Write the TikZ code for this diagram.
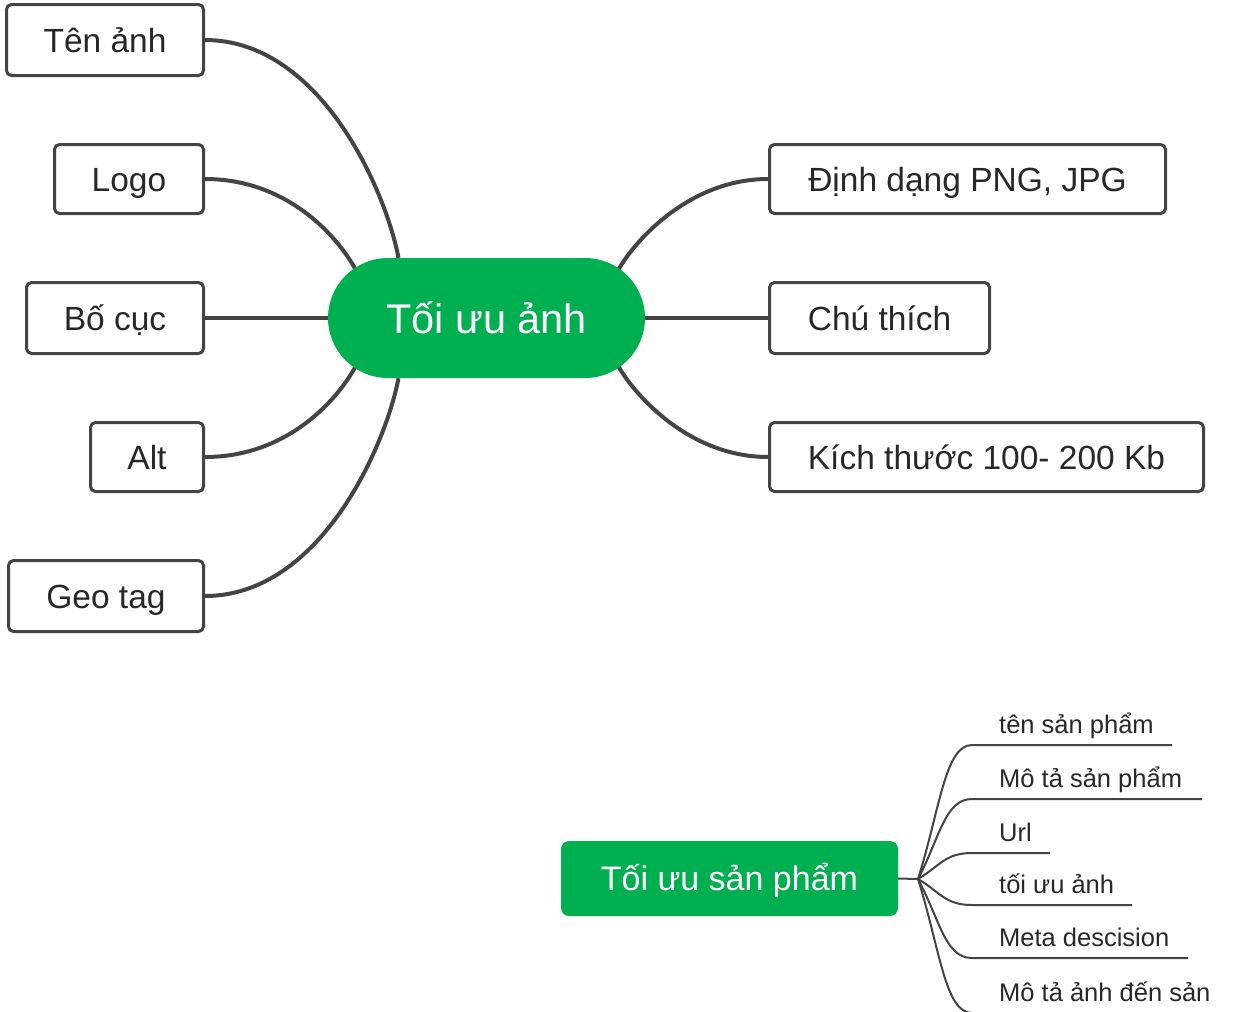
\documentclass[tikz,border=0pt]{standalone}
\usepackage{fontspec}
\setmainfont{Liberation Sans}
\usetikzlibrary{backgrounds}
\definecolor{mmgreen}{RGB}{0,175,80}
\definecolor{lnc}{RGB}{68,68,68}
\definecolor{txc}{RGB}{40,40,40}
\begin{document}
\begin{tikzpicture}[x=1pt,y=-1pt,
  box/.style={draw=lnc, line width=3pt, rounded corners=5pt, fill=white, text=txc,
    font=\fontsize{33.5}{40}\selectfont, text height=24pt, text depth=0pt, inner sep=0pt},
  hub/.style={fill=mmgreen, text=white, inner sep=0pt, text depth=0pt},
  conn/.style={draw=lnc, line width=4pt},
  thinl/.style={draw=lnc, line width=2pt},
  leaf/.style={text=txc, font=\fontsize{25.5}{30}\selectfont, inner sep=0pt, anchor=base west}]
\useasboundingbox (0,0) rectangle (1240,1012);

% central node
\node[hub, minimum width=317pt, minimum height=120pt, rounded corners=60pt,
  font=\fontsize{41.5}{50}\selectfont, text height=30pt] (c) at (486.5,318) {Tối ưu ảnh};

% left boxes
\node[box, minimum width=197pt, minimum height=71pt] (ten) at (105,40) {Tên ảnh};
\node[box, minimum width=149pt, minimum height=69pt] (logo) at (129,179) {Logo};
\node[box, minimum width=177pt, minimum height=71pt] (bocuc) at (115,318) {Bố cục};
\node[box, minimum width=113pt, minimum height=69pt] (alt) at (147,457) {Alt};
\node[box, minimum width=195pt, minimum height=71pt] (geo) at (106,596) {Geo tag};

% right boxes
\node[box, minimum width=396pt, minimum height=69pt] (dinh) at (967.5,179) {Định dạng PNG, JPG};
\node[box, minimum width=220pt, minimum height=71pt] (chu) at (879.5,318) {Chú thích};
\node[box, minimum width=434pt, minimum height=69pt] (kich) at (986.5,457) {Kích thước 100- 200 Kb};

\begin{scope}[on background layer]
\draw[conn] (ten.east) .. controls +(115,0) and +(-13,-68) .. ([xshift=-88pt]c.north);
\draw[conn] (logo.east) .. controls +(85,0) and +(-16,-30) .. ([shift={(28,-48)}]c.west);
\draw[conn] (bocuc.east) -- (c.west);
\draw[conn] (alt.east) .. controls +(85,0) and +(-16,30) .. ([shift={(28,48)}]c.west);
\draw[conn] (geo.east) .. controls +(115,0) and +(-13,68) .. ([xshift=-88pt]c.south);
\draw[conn] (dinh.west) .. controls +(-78,0) and +(17,-30) .. ([shift={(-27,-48)}]c.east);
\draw[conn] (chu.west) -- (c.east);
\draw[conn] (kich.west) .. controls +(-78,0) and +(17,30) .. ([shift={(-27,48)}]c.east);
\end{scope}

% second map
\node[hub, minimum width=337pt, minimum height=75pt, rounded corners=8pt,
  font=\fontsize{34}{40}\selectfont, text height=24.5pt] (sp) at (729.5,878.5) {Tối ưu sản phẩm};
\coordinate (j) at (918,879);
\draw[thinl] (sp.east) -- (j);

\node[leaf] (l1) at (999,733.5) {tên sản phẩm};
\node[leaf] (l2) at (999,787.5) {Mô tả sản phẩm};
\node[leaf] (l3) at (999,841.5) {Url};
\node[leaf] (l4) at (999,893.5) {tối ưu ảnh};
\node[leaf] (l5) at (999,946.5) {Meta descision};
\node[leaf] (l6) at (999,1001.5) {Mô tả ảnh đến sản};

\coordinate (u1) at (1172,745);
\coordinate (u2) at (1202,799);
\coordinate (u3) at (1050,853);
\coordinate (u4) at (1132,905);
\coordinate (u5) at (1188,958);
\coordinate (u6) at (1235,1013);

\draw[thinl] (j) .. controls (940,809) and (945,745) .. (972,745) -- (u1);
\draw[thinl] (j) .. controls (940,837) and (945,799) .. (972,799) -- (u2);
\draw[thinl] (j) .. controls (940,866) and (945,853) .. (972,853) -- (u3);
\draw[thinl] (j) .. controls (940,892) and (945,905) .. (972,905) -- (u4);
\draw[thinl] (j) .. controls (940,920) and (945,958) .. (972,958) -- (u5);
\draw[thinl] (j) .. controls (940,949) and (945,1013) .. (972,1013) -- (u6);
\end{tikzpicture}
\end{document}
